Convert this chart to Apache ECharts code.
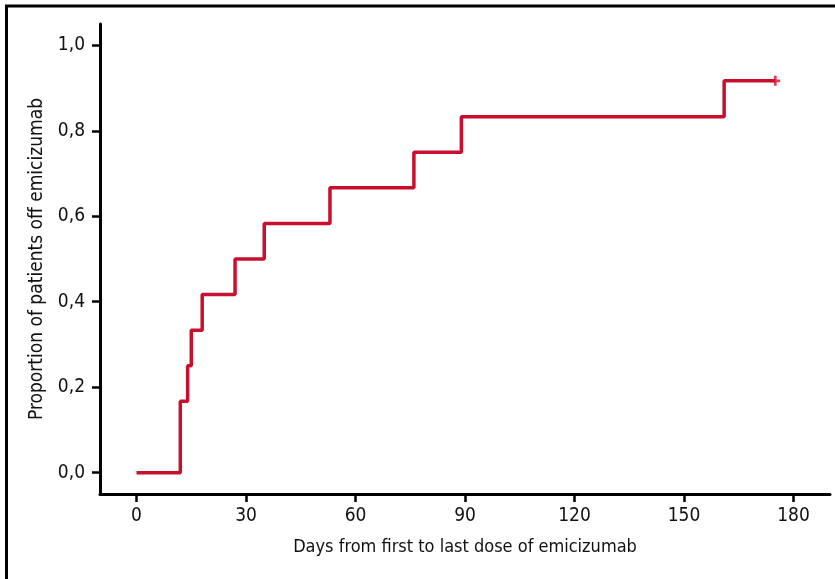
<!DOCTYPE html>
<html>
<head>
<meta charset="utf-8">
<script src="https://cdn.jsdelivr.net/npm/echarts@6/dist/echarts.min.js"></script>
<style>
  html, body { margin: 0; padding: 0; background: #fff; }
  #chart { width: 835px; height: 579px; }
</style>
</head>
<body>
<div id="chart"></div>
<script>
// Kaplan-Meier: time to stopping emicizumab
const days = [0, 12, 14, 15, 18, 27, 35, 53, 76, 89, 161, 175]
const proportionOff = [0, 0.167, 0.25, 0.333, 0.417, 0.5, 0.583, 0.667, 0.75, 0.833, 0.917, 0.917]
const censored = [[175, 0.917]]
const xTicks = [0, 30, 60, 90, 120, 150, 180]
const yTicks = [0, 0.2, 0.4, 0.6, 0.8, 1.0]

const font = 'DejaVu Sans Condensed'
const red = '#c8102e'

let myChart = echarts.init(document.getElementById('chart'))
let option = {
  animation: false,
  backgroundColor: '#fff',
  graphic: [
    {
      type: 'rect',
      shape: { x: 6.5, y: 6, width: 840, height: 600 },
      style: { fill: 'none', stroke: '#000', lineWidth: 3 },
      silent: true
    }
  ],
  grid: {
    left: 100,
    right: 5,
    top: 24,
    height: 470
  },
  xAxis: {
    type: 'value',
    min: -10,
    max: 190,
    name: 'Days from first to last dose of emicizumab',
    nameLocation: 'middle',
    nameGap: 44,
    nameTextStyle: { fontFamily: font, fontSize: 18, color: '#111' },
    splitLine: { show: false },
    axisLine: { onZero: false, lineStyle: { color: '#000', width: 3 } },
    axisTick: { customValues: xTicks, length: 8, lineStyle: { color: '#000', width: 2.5 } },
    axisLabel: {
      customValues: xTicks,
      margin: 13,
      fontFamily: font,
      fontSize: 19,
      color: '#111'
    }
  },
  yAxis: {
    type: 'value',
    min: -0.05,
    max: 1.05,
    name: 'Proportion of patients off emicizumab',
    nameLocation: 'middle',
    nameGap: 52,
    nameTextStyle: { fontFamily: font, fontSize: 19, color: '#111' },
    splitLine: { show: false },
    axisLine: { onZero: false, lineStyle: { color: '#000', width: 3 } },
    axisTick: { customValues: yTicks, length: 8, lineStyle: { color: '#000', width: 2.5 } },
    axisLabel: {
      customValues: yTicks,
      margin: 15,
      fontFamily: font,
      fontSize: 19,
      color: '#111',
      formatter: function (v) {
        return v.toFixed(1).replace('.', ',')
      }
    }
  },
  series: [
    {
      type: 'line',
      step: 'end',
      symbol: 'none',
      lineStyle: { color: red, width: 3.5 },
      data: days.map(function (d, i) {
        return [d, proportionOff[i]]
      })
    },
    {
      type: 'scatter',
      symbol: 'path://M3.6,0H6.4V10H3.6Z M0,3.6H10V6.4H0Z',
      symbolSize: 10,
      itemStyle: { color: red },
      data: censored
    }
  ]
}
myChart.setOption(option)
</script>
</body>
</html>
